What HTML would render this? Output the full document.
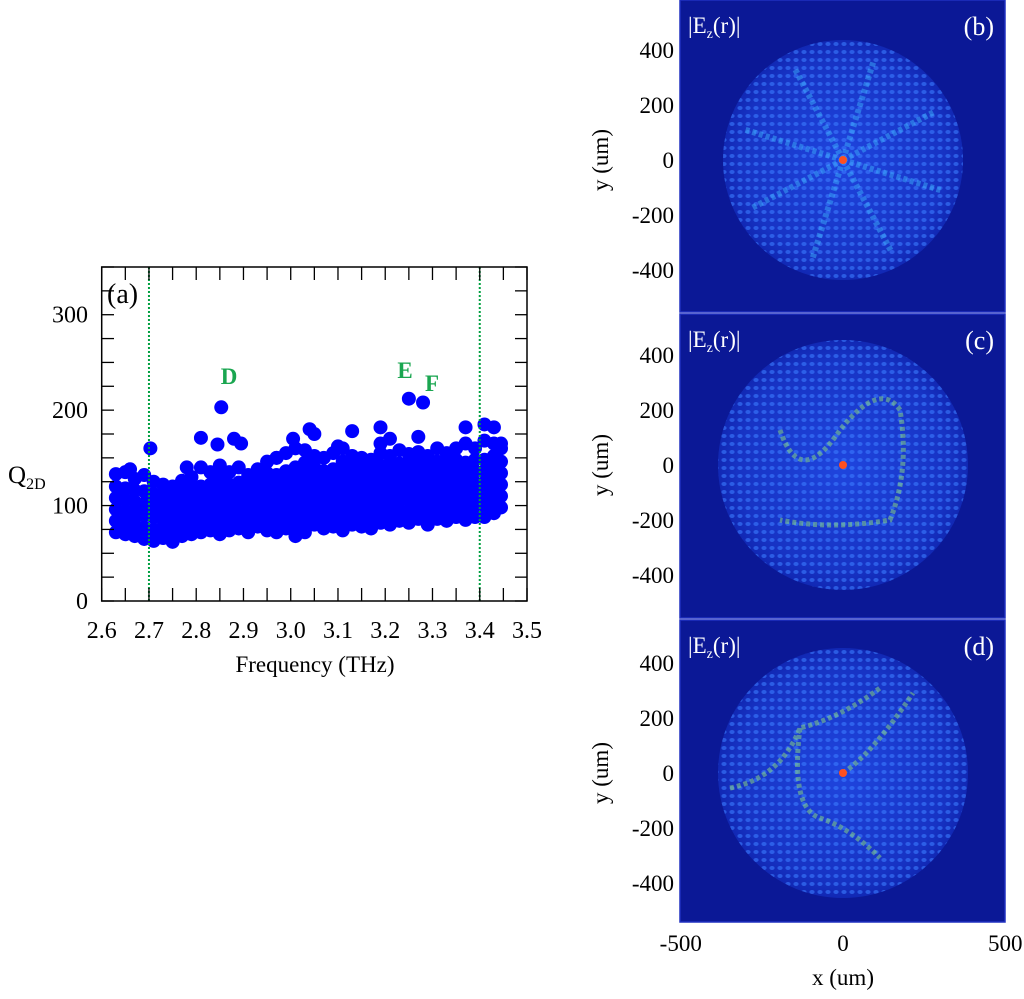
<!DOCTYPE html>
<html><head><meta charset="utf-8"><style>
body{margin:0;background:#fff;width:1024px;height:999px;overflow:hidden;font-family:"Liberation Serif",serif}
svg{position:absolute;left:0;top:0}
</style></head><body>
<svg id="fig" width="1024" height="999" font-family="Liberation Serif, serif">
<defs>
<pattern id="dots" width="8" height="8" patternUnits="userSpaceOnUse">
<ellipse cx="4" cy="4" rx="2.6" ry="2" fill="#3a7cff" opacity="0.6"/>
</pattern>
<radialGradient id="glow"><stop offset="0" stop-color="#1f45de"/><stop offset="0.85" stop-color="#1733c4"/><stop offset="1" stop-color="#1128b4"/></radialGradient>
</defs>
<g id="scatter"></g>
<g id="maps"></g>
</svg>
<script>
const NS='http://www.w3.org/2000/svg';
// ---- data: scatter (a) ----
const colFreqs=[2.63,2.65,2.67,2.69,2.71,2.73,2.75,2.77,2.79,2.81,2.83,2.85,2.87,2.89,2.91,2.93,2.95,2.97,2.99,3.01,3.03,3.05,3.07,3.09,3.11,3.13,3.15,3.17,3.19,3.21,3.23,3.25,3.27,3.29,3.31,3.33,3.35,3.37,3.39,3.41,3.43,3.445];
const colQs=[
[72,84,96,108,120,133],[70,82,94,106,118,135],[68,80,92,104,116,128],[65,77,90,102,115,132],[63,75,88,100,112,125],[66,78,90,102,114,122],[62,74,86,98,110,120],[68,80,92,104,116,126],[70,82,94,106,118,130],[72,84,96,108,120,140],[74,86,98,110,122,135],[70,82,94,106,118,130,142],[74,86,98,110,122,135],[76,88,100,112,124,140],[72,84,96,108,120,132],[78,90,102,114,126,138],[74,86,98,110,122,134,146],[72,84,96,108,120,132,150],[76,88,100,112,124,136,155],[68,80,92,104,116,128,140,160],[72,84,96,108,120,132,145,158],[80,92,104,116,128,140,152],[76,88,100,112,124,136,150],[78,90,102,114,126,138,155],[74,86,98,110,122,134,146,160],[80,92,104,116,128,140,152],[78,90,102,114,126,138,150],[76,88,100,112,124,136,148],[82,94,106,118,130,142,155],[80,92,104,116,128,140,152],[84,96,108,120,132,144,158],[82,94,106,118,130,142,154],[86,98,110,120,132,144,156],[80,92,104,116,128,140,152],[86,98,110,122,134,146,160],[84,96,108,120,132,144,155],[88,100,112,124,136,148,160],[85,97,109,121,133,145,165],[88,100,112,124,136,148,160],[88,100,112,124,136,148,168],[92,104,116,128,140,152,165],[98,110,122,134,146,160]];
const outF=[2.703,2.853,2.81,2.845,2.88,2.895,3.04,3.05,3.13,3.19,3.21,3.25,3.28,3.27,3.37,3.41,3.43,3.445,2.66,2.78,3.19,3.1,3.005,2.97];
const outQ=[160,203,171,164,170,165,180,175,178,182,170,212,208,172,182,185,182,165,138,140,165,162,170,150];
const xTicks=[2.6,2.7,2.8,2.9,3.0,3.1,3.2,3.3,3.4,3.5];
const xTickLabels=['2.6','2.7','2.8','2.9','3.0','3.1','3.2','3.3','3.4','3.5'];
const yTicks=[0,100,200,300];
const vLines=[2.7,3.4];
// ---- data: maps ----
const mapTicksY=[400,200,0,-200,-400];
const mapTicksX=[-500,0,500];
const panels=[{id:'b',top:0,bot:312,cy:160,r:120},{id:'c',top:314,bot:618,cy:465,r:125},{id:'d',top:620,bot:922,cy:773,r:125}];

const X=f=>101.7+(f-2.6)*(527-101.7)/0.9;
const Y=q=>601-q*(601-267)/350;
function el(tag,attrs,parent,text){const e=document.createElementNS(NS,tag);for(const k in attrs)e.setAttribute(k,attrs[k]);if(text!==undefined)e.textContent=text;parent.appendChild(e);return e;}
const sc=document.getElementById('scatter');
const pg=el('g',{fill:'#0000ff'},sc);


colFreqs.forEach((f,i)=>colQs[i].forEach(q=>{const c=el('circle',{cx:X(f),cy:Y(q),r:7},pg);

}));
outF.forEach((f,i)=>{const c=el('circle',{cx:X(f),cy:Y(outQ[i]),r:7},pg);

});
vLines.forEach(v=>{const l=el('line',{x1:X(v),x2:X(v),y1:267,y2:601,stroke:'#00a040','stroke-width':2,'stroke-dasharray':'2,2'},sc);

});
const fr=el('rect',{x:101.7,y:267,width:425.3,height:334,fill:'none',stroke:'#000','stroke-width':1.5},sc);


for(let f=2.6;f<=3.501;f+=0.05){const x=X(f);el('line',{x1:x,x2:x,y1:601,y2:588,stroke:'#000','stroke-width':1.3},sc);el('line',{x1:x,x2:x,y1:267,y2:280,stroke:'#000','stroke-width':1.3},sc);}
for(let q=0;q<=350;q+=25){const y=Y(q);el('line',{x1:101.7,x2:114,y1:y,y2:y,stroke:'#000','stroke-width':1.3},sc);el('line',{x1:527,x2:515,y1:y,y2:y,stroke:'#000','stroke-width':1.3},sc);}
xTicks.forEach((t,i)=>{const e=el('text',{x:X(t),y:638,'font-size':24,'text-anchor':'middle'},sc,xTickLabels[i]);

});
yTicks.forEach(t=>{const e=el('text',{x:88,y:Y(t)+8,'font-size':24,'text-anchor':'end'},sc,String(t));

});
let e=el('text',{x:315,y:672,'font-size':23,'text-anchor':'middle'},sc,'Frequency (THz)');

e=el('text',{x:8,y:483,'font-size':25},sc);e.innerHTML='Q<tspan font-size="16" dy="6">2D</tspan>';

e=el('text',{x:107,y:303,'font-size':28},sc,'(a)');

[['D',229,384],['E',405,378],['F',432,391]].forEach(([t,x,y])=>{const a=el('text',{x:x,y:y,'font-size':23,'font-weight':'bold',fill:'#1aa650','text-anchor':'middle'},sc,t);

});

const mp=document.getElementById('maps');
const MX=u=>843+u*0.3245, MS=0.275;
panels.forEach(p=>{
 const g=el('g',{},mp);
 
 
 el('rect',{x:680,y:p.top,width:325,height:p.bot-p.top,fill:'#0b1896'},g);
 const R=p.r;
 el('circle',{cx:843,cy:p.cy,r:R,fill:'url(#glow)'},g);
 el('circle',{cx:843,cy:p.cy,r:R,fill:'url(#dots)'},g);
 if(p.id==='b'){for(let k=0;k<8;k++){const a=k*Math.PI/4+0.3;el('line',{x1:843,y1:p.cy,x2:843+Math.cos(a)*105,y2:p.cy+Math.sin(a)*105,stroke:'#3fb8ff','stroke-width':6,'stroke-dasharray':'4,3',opacity:0.45},g);}}
 else if(p.id==='c'){el('path',{d:`M780 ${p.cy-35} q20 60 60 0 q40 -50 60 -20 q10 60 -10 110 q-60 10 -110 0`,fill:'none',stroke:'#8fe07a','stroke-width':5,'stroke-dasharray':'4,3',opacity:0.5},g);}
 else {el('path',{d:`M730 ${p.cy+15} q50 -10 70 -60 q40 -10 80 -40 M800 ${p.cy-45} q-10 80 20 90 q30 10 60 40 M843 ${p.cy} q30 -20 70 -80`,fill:'none',stroke:'#8fe07a','stroke-width':5,'stroke-dasharray':'4,3',opacity:0.5},g);}
 el('circle',{cx:843,cy:p.cy,r:4,fill:'#ff5020'},g);
 el('rect',{x:680,y:p.top,width:325,height:p.bot-p.top,fill:'none',stroke:'#2030c0','stroke-width':1.5},g);
 let t=el('text',{x:688,y:p.top+33,'font-size':23,fill:'#fff'},g);t.innerHTML='|E<tspan font-size="14" dy="5">z</tspan><tspan dy="-5">(r)|</tspan>';
 
 t=el('text',{x:994,y:p.top+35,'font-size':26,fill:'#fff','text-anchor':'end'},g,'('+p.id+')');
 
 mapTicksY.forEach(v=>{const tl=el('text',{x:674,y:p.cy-v*MS+8,'font-size':23,'text-anchor':'end'},mp,String(v));
 });
 const yl=el('text',{x:0,y:0,'font-size':23,'text-anchor':'middle',transform:`translate(608 ${p.cy}) rotate(-90)`},mp,'y (um)');
 
});
mapTicksX.forEach(v=>{const tl=el('text',{x:MX(v),y:951,'font-size':23,'text-anchor':'middle'},mp,String(v));
});
e=el('text',{x:843,y:985,'font-size':23,'text-anchor':'middle'},mp,'x (um)');

</script>
</body></html>
